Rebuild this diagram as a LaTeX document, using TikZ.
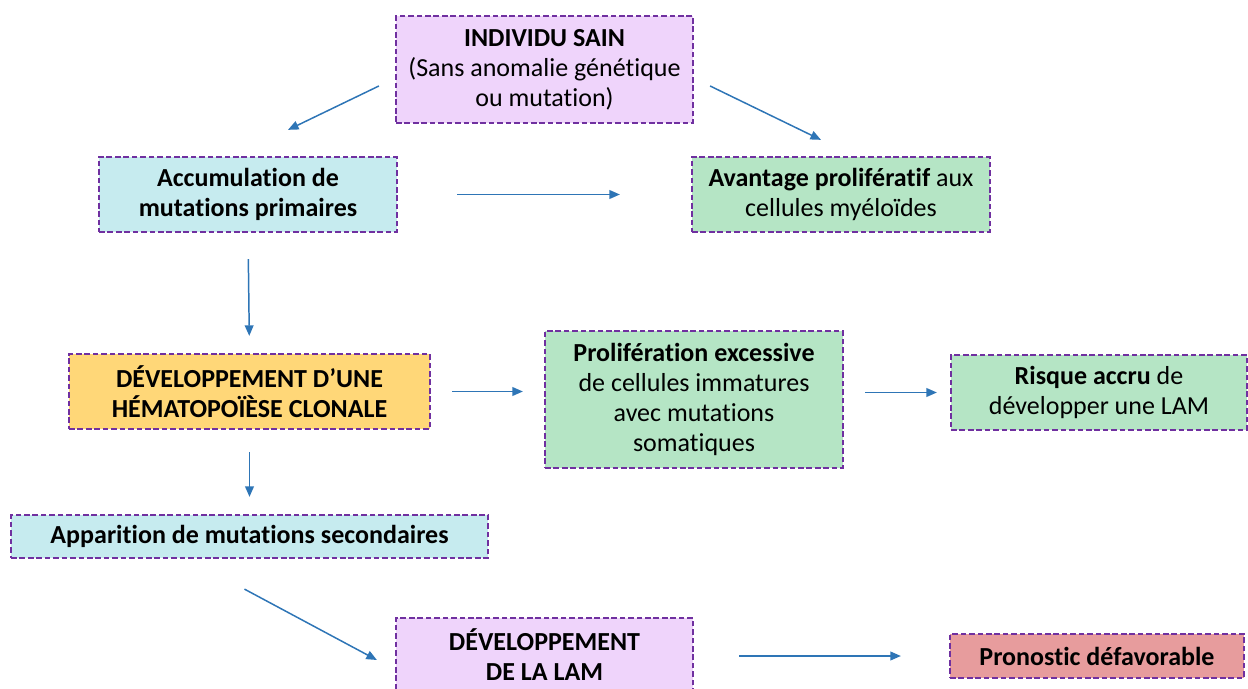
\documentclass[tikz,border=0pt]{standalone}
\usepackage{fontspec}
\setmainfont{Carlito}[Ligatures=NoCommon]
\usetikzlibrary{arrows.meta,calc}
\definecolor{bordViolet}{HTML}{7030A0}
\definecolor{flecheBleu}{HTML}{2E75B6}
\definecolor{lilas}{HTML}{EFD4FB}
\definecolor{cyanPale}{HTML}{C6EBEF}
\definecolor{vertPale}{HTML}{B5E5C5}
\definecolor{orangePale}{HTML}{FFD778}
\definecolor{rougePale}{HTML}{E79C9D}

\begin{document}
\begin{tikzpicture}[x=0.02cm, y=-0.02cm,
	boite/.style={draw=bordViolet, line width=1.3pt, dash pattern=on 3.2pt off 1.6pt,
		align=center, inner sep=0pt, font=\fontsize{14.8}{17}\selectfont},
	fleche/.style={draw=flecheBleu, line width=0.85pt, -{Triangle[length=6pt,width=5pt]}}]
	\useasboundingbox (0,0) rectangle (1248,689);

	% Les boites
	\node[boite, fill=lilas, minimum width=5.94cm, minimum height=2.14cm] (sain) at (544.5,69.5)
		{\textbf{INDIVIDU SAIN}\\(Sans anomalie génétique\\ou mutation)};
	\node[boite, fill=cyanPale, minimum width=5.96cm, minimum height=1.5cm] (accum) at (248,194.5)
		{\textbf{Accumulation de}\\\textbf{mutations primaires}};
	\node[boite, fill=vertPale, minimum width=5.96cm, minimum height=1.5cm] (avantage) at (841,194.5)
		{\textbf{Avantage prolifératif} aux\\cellules myéloïdes};
	\node[boite, fill=orangePale, minimum width=7.22cm, minimum height=1.5cm] (clonale) at (249.5,391.5)
		{\textbf{DÉVELOPPEMENT D’UNE}\\\textbf{HÉMATOPOÏÈSE CLONALE}};
	\node[boite, fill=vertPale, minimum width=5.96cm, minimum height=2.74cm] (prolif) at (694,399.5)
		{\textbf{Prolifération excessive}\\de cellules immatures\\avec mutations\\somatiques};
	\node[boite, fill=vertPale, minimum width=5.92cm, minimum height=1.5cm] (risque) at (1099,392.5)
		{\textbf{Risque accru} de\\développer une LAM};
	\node[boite, fill=cyanPale, minimum width=9.54cm, minimum height=0.86cm] (secondaires) at (249.5,536.5)
		{\textbf{Apparition de mutations secondaires}};
	\node[boite, fill=lilas, minimum width=5.94cm, minimum height=1.48cm] (lam) at (544.5,655)
		{\textbf{DÉVELOPPEMENT}\\\textbf{DE LA LAM}};
	\node[boite, fill=rougePale, minimum width=5.88cm, minimum height=0.88cm] (pronostic) at (1097,656)
		{\textbf{Pronostic défavorable}};

	% Les fleches
	\draw[fleche] ($(sain.west)+(-16,16.5)$) -- ($(accum.north)+(40,-26)$);
	\draw[fleche] ($(sain.east)+(16,16.5)$) -- ($(avantage.north)+(-20,-16)$);
	\draw[fleche, shorten <=1.18cm, shorten >=1.42cm] (accum.east) -- (accum.east -| avantage.west);
	\draw[fleche, shorten <=0.52cm, shorten >=0.34cm] (accum.south) -- (clonale.north);
	\draw[fleche, shorten <=0.42cm, shorten >=0.42cm] (clonale.east) -- (clonale.east -| prolif.west);
	\draw[fleche, shorten <=0.42cm, shorten >=0.26cm] (prolif.east |- risque.west) -- (risque.west);
	\draw[fleche, shorten <=0.44cm, shorten >=0.34cm] (clonale.south) -- (secondaires.north);
	\draw[fleche] ($(secondaires.south)+(-5,30)$) -- ($(lam.west)+(-18,5)$);
	\draw[fleche, shorten <=0.9cm, shorten >=0.96cm] (lam.east |- pronostic.west) -- (pronostic.west);
\end{tikzpicture}
\end{document}
